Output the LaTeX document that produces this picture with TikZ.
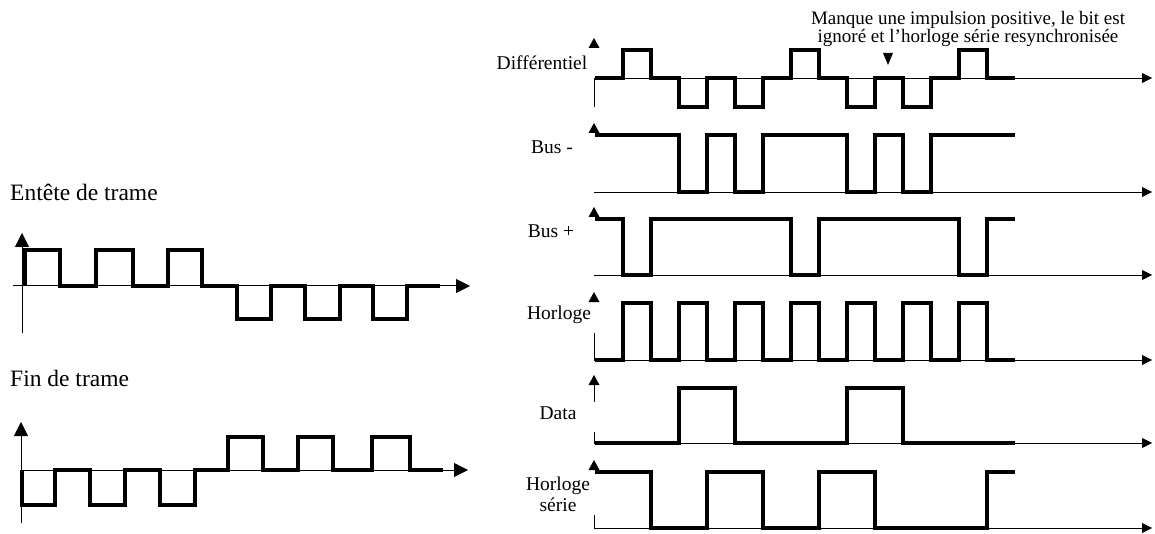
\documentclass[tikz,border=0pt]{standalone}
\usepackage{fontspec}
\setmainfont{Liberation Serif}
\usetikzlibrary{arrows.meta}
\tikzset{
  wave/.style={line width=3.4pt, line join=miter},
  waveL/.style={line width=3.8pt, line join=miter},
  axisline/.style={line width=0.9pt},
  haxis/.style={axisline, -{Triangle[length=10pt,width=10pt]}},
  laxis/.style={line width=1pt, -{Triangle[length=14pt,width=14pt]}},
  lblL/.style={font=\fontsize{23.5}{28}\selectfont, anchor=west, inner sep=0pt},
  lblR/.style={font=\fontsize{19.5}{21}\selectfont, inner sep=0pt, align=center},
  note/.style={font=\fontsize{19}{18}\selectfont, inner sep=0pt, align=center}
}
\newcommand\UpTip[2]{\fill (#1-5.5,#2+10) -- (#1+5.5,#2+10) -- (#1,#2) -- cycle;}
\begin{document}
\begin{tikzpicture}[x=1pt,y=-1pt]
\useasboundingbox (0,0) rectangle (1155,534);
\fill[white] (0,0) rectangle (1155,534);

% ---------------- left: Entete de trame ----------------
\node[lblL] (entete) at (10,192) {Entête de trame};
\draw[laxis] (22,333) -- (22,233);
\draw[laxis] (13,286) -- (470,286);
\draw[waveL] (25,286) -- (25,250) -| (60,286) -| (96,250) -| (133,286) -| (168,250)
  -| (202,286) -| (237,319) -| (271,286) -| (305,319) -| (340,286) -| (373,319)
  -| (407,286) -- (440,286);

% ---------------- left: Fin de trame ----------------
\node[lblL] (fin) at (10,378) {Fin de trame};
\draw[laxis] (21,523) -- (21,422);
\draw[laxis] (21,470) -- (468,470);
\draw[waveL] (22,470) -- (22,505) -| (55,470) -| (90,505) -| (125,470) -| (160,505)
  -| (195,470) -| (228,437) -| (263,470) -| (298,437) -| (333,470) -| (372,437)
  -| (410,470) -- (443,470);

% ---------------- annotation ----------------
\node[note] (manque) at (968,29) {Manque une impulsion positive, le bit est\\ignoré et l’horloge série resynchronisée};
\fill (883,53) -- (893,53) -- (888,65) -- cycle;

% ---------------- Differentiel ----------------
\node[lblR] (diff) at (542,63) {Différentiel};
\UpTip{594}{38}
\draw[axisline] (594,78) -- (594,107);
\draw[haxis] (594,78) -- (1152,78);
\draw[wave] (595,78) -| (623,50) -| (651,78) -| (679,107) -| (707,78) -| (735,107)
  -| (763,78) -| (791,50) -| (819,78) -| (847,107) -| (875,78) -| (903,107)
  -| (931,78) -| (959,50) -| (987,78) -- (1015,78);

% ---------------- Bus - ----------------
\node[lblR] (busm) at (552,147) {Bus -};
\UpTip{594}{123}
\draw[haxis] (594,192) -- (1152,192);
\draw[wave] (595,135) -| (679,192) -| (707,135) -| (735,192) -| (763,135) -| (847,192)
  -| (875,135) -| (903,192) -| (931,135) -- (1015,135);

% ---------------- Bus + ----------------
\node[lblR] (busp) at (551,231) {Bus +};
\UpTip{594}{207}
\draw[haxis] (594,275) -- (1152,275);
\draw[wave] (595,219) -| (623,275) -| (651,219) -| (791,275) -| (819,219) -| (959,275)
  -| (987,219) -- (1015,219);

% ---------------- Horloge ----------------
\node[lblR] (horl) at (559,315) {Horloge};
\UpTip{594}{292}
\draw[axisline] (594,333) -- (594,360);
\draw[haxis] (594,360) -- (1152,360);
\draw[wave] (595,360) -| (623,303) -| (651,360) -| (679,303) -| (707,360) -| (735,303)
  -| (763,360) -| (791,303) -| (819,360) -| (847,303) -| (875,360) -| (903,303)
  -| (931,360) -| (959,303) -| (987,360) -- (1015,360);

% ---------------- Data ----------------
\node[lblR] (data) at (558,413) {Data};
\UpTip{594}{375}
\draw[axisline] (594,385) -- (594,402);
\draw[axisline] (594,432) -- (594,443);
\draw[haxis] (594,443) -- (1152,443);
\draw[wave] (595,443) -| (679,388) -| (735,443) -| (847,388) -| (903,443) -- (1015,443);

% ---------------- Horloge serie ----------------
\node[lblR] (hser) at (558,494.5) {Horloge\\série};
\UpTip{594}{460}
\draw[axisline] (594,515) -- (594,528);
\draw[haxis] (594,528) -- (1152,528);
\draw[wave] (595,472) -| (651,528) -| (707,472) -| (763,528) -| (819,472) -| (875,528)
  -| (987,472) -- (1015,472);
\end{tikzpicture}
\end{document}
